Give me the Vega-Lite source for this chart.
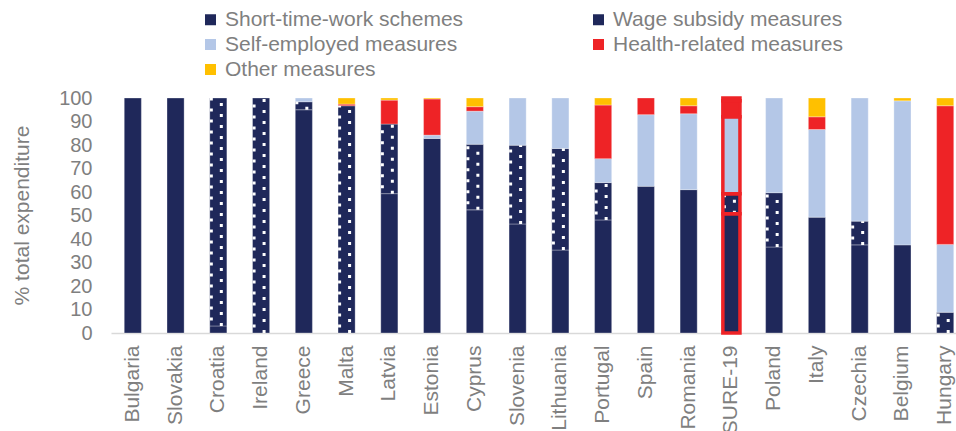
{
  "$schema": "https://vega.github.io/schema/vega-lite/v6.json",
  "width": 845,
  "height": 235,
  "autosize": {"type": "none"},
  "padding": {"left": 111, "top": 98, "right": 0, "bottom": 98},
  "background": "white",
  "config": {
    "font": "Liberation Sans",
    "view": {"stroke": null},
    "axis": {"labelColor": "#7F7F7F", "titleColor": "#7F7F7F", "labelFont": "Liberation Sans", "titleFont": "Liberation Sans"},
    "legend": {"labelFont": "Liberation Sans"}
  },
  "data": {
    "values": [
      {"country": "Bulgaria", "measure": "Short-time-work schemes", "value": 100},
      {"country": "Slovakia", "measure": "Short-time-work schemes", "value": 100},
      {"country": "Croatia", "measure": "Short-time-work schemes", "value": 3},
      {"country": "Croatia", "measure": "Wage subsidy measures", "value": 97},
      {"country": "Ireland", "measure": "Wage subsidy measures", "value": 100},
      {"country": "Greece", "measure": "Short-time-work schemes", "value": 95},
      {"country": "Greece", "measure": "Wage subsidy measures", "value": 3.4},
      {"country": "Greece", "measure": "Self-employed measures", "value": 1.6},
      {"country": "Malta", "measure": "Wage subsidy measures", "value": 96.7},
      {"country": "Malta", "measure": "Health-related measures", "value": 0.7},
      {"country": "Malta", "measure": "Other measures", "value": 2.6},
      {"country": "Latvia", "measure": "Short-time-work schemes", "value": 59.3},
      {"country": "Latvia", "measure": "Wage subsidy measures", "value": 29.6},
      {"country": "Latvia", "measure": "Health-related measures", "value": 10.2},
      {"country": "Latvia", "measure": "Other measures", "value": 0.9},
      {"country": "Estonia", "measure": "Short-time-work schemes", "value": 82.8},
      {"country": "Estonia", "measure": "Self-employed measures", "value": 1.4},
      {"country": "Estonia", "measure": "Health-related measures", "value": 15.4},
      {"country": "Estonia", "measure": "Other measures", "value": 0.4},
      {"country": "Cyprus", "measure": "Short-time-work schemes", "value": 52.4},
      {"country": "Cyprus", "measure": "Wage subsidy measures", "value": 27.9},
      {"country": "Cyprus", "measure": "Self-employed measures", "value": 14.1},
      {"country": "Cyprus", "measure": "Health-related measures", "value": 1.9},
      {"country": "Cyprus", "measure": "Other measures", "value": 3.7},
      {"country": "Slovenia", "measure": "Short-time-work schemes", "value": 46.4},
      {"country": "Slovenia", "measure": "Wage subsidy measures", "value": 33.5},
      {"country": "Slovenia", "measure": "Self-employed measures", "value": 20.1},
      {"country": "Lithuania", "measure": "Short-time-work schemes", "value": 35.3},
      {"country": "Lithuania", "measure": "Wage subsidy measures", "value": 43.2},
      {"country": "Lithuania", "measure": "Self-employed measures", "value": 21.5},
      {"country": "Portugal", "measure": "Short-time-work schemes", "value": 48.1},
      {"country": "Portugal", "measure": "Wage subsidy measures", "value": 15.9},
      {"country": "Portugal", "measure": "Self-employed measures", "value": 10.2},
      {"country": "Portugal", "measure": "Health-related measures", "value": 22.8},
      {"country": "Portugal", "measure": "Other measures", "value": 3},
      {"country": "Spain", "measure": "Short-time-work schemes", "value": 62.4},
      {"country": "Spain", "measure": "Self-employed measures", "value": 30.5},
      {"country": "Spain", "measure": "Health-related measures", "value": 7.1},
      {"country": "Romania", "measure": "Short-time-work schemes", "value": 61},
      {"country": "Romania", "measure": "Self-employed measures", "value": 32.3},
      {"country": "Romania", "measure": "Health-related measures", "value": 3.4},
      {"country": "Romania", "measure": "Other measures", "value": 3.3},
      {"country": "SURE-19", "measure": "Short-time-work schemes", "value": 50.7},
      {"country": "SURE-19", "measure": "Wage subsidy measures", "value": 8.6},
      {"country": "SURE-19", "measure": "Self-employed measures", "value": 32.7},
      {"country": "SURE-19", "measure": "Health-related measures", "value": 6.8},
      {"country": "SURE-19", "measure": "Other measures", "value": 1.2},
      {"country": "Poland", "measure": "Short-time-work schemes", "value": 36.6},
      {"country": "Poland", "measure": "Wage subsidy measures", "value": 23.1},
      {"country": "Poland", "measure": "Self-employed measures", "value": 40.3},
      {"country": "Italy", "measure": "Short-time-work schemes", "value": 49.3},
      {"country": "Italy", "measure": "Self-employed measures", "value": 37.3},
      {"country": "Italy", "measure": "Health-related measures", "value": 5.4},
      {"country": "Italy", "measure": "Other measures", "value": 8},
      {"country": "Czechia", "measure": "Short-time-work schemes", "value": 37.5},
      {"country": "Czechia", "measure": "Wage subsidy measures", "value": 10.1},
      {"country": "Czechia", "measure": "Self-employed measures", "value": 52.4},
      {"country": "Belgium", "measure": "Short-time-work schemes", "value": 37.5},
      {"country": "Belgium", "measure": "Self-employed measures", "value": 61.3},
      {"country": "Belgium", "measure": "Other measures", "value": 1.2},
      {"country": "Hungary", "measure": "Wage subsidy measures", "value": 8.8},
      {"country": "Hungary", "measure": "Self-employed measures", "value": 28.9},
      {"country": "Hungary", "measure": "Health-related measures", "value": 59},
      {"country": "Hungary", "measure": "Other measures", "value": 3.3}
    ]
  },
  "transform": [
    {"calculate": "indexof(['Short-time-work schemes','Wage subsidy measures','Self-employed measures','Health-related measures','Other measures'], datum.measure)", "as": "k"},
    {"stack": "value", "groupby": ["country"], "sort": [{"field": "k", "order": "ascending"}], "as": ["y0", "y1"]}
  ],
  "encoding": {
    "x": {
      "field": "country",
      "type": "nominal",
      "sort": ["Bulgaria", "Slovakia", "Croatia", "Ireland", "Greece", "Malta", "Latvia", "Estonia", "Cyprus", "Slovenia", "Lithuania", "Portugal", "Spain", "Romania", "SURE-19", "Poland", "Italy", "Czechia", "Belgium", "Hungary"],
      "scale": {"paddingInner": 0.6, "paddingOuter": 0.31, "range": [0, 856]},
      "axis": {
        "title": null,
        "labelAngle": -90,
        "labelFontSize": 21,
        "labelPadding": 12,
        "ticks": false,
        "domainColor": "#D9D9D9",
        "domainWidth": 1.5,
        "grid": false
      }
    },
    "y": {
      "field": "y0",
      "type": "quantitative",
      "scale": {"domain": [0, 100]},
      "axis": {
        "title": "% total expenditure",
        "titleFontSize": 21,
        "titleFontWeight": "normal",
        "titleAngle": -90,
        "titleX": -89,
        "titleY": 117,
        "titleAlign": "center",
        "titleBaseline": "middle",
        "values": [0, 10, 20, 30, 40, 50, 60, 70, 80, 90, 100],
        "labelFontSize": 20,
        "labelPadding": 19,
        "ticks": false,
        "domain": false,
        "grid": false
      }
    },
    "y2": {"field": "y1"}
  },
  "layer": [
    {
      "mark": {"type": "bar", "stroke": "white", "strokeWidth": 0.6, "strokeOpacity": 0.5},
      "encoding": {
        "color": {
          "field": "measure",
          "type": "nominal",
          "scale": {
            "domain": ["Short-time-work schemes", "Self-employed measures", "Other measures", "Wage subsidy measures", "Health-related measures"],
            "range": ["#1F285A", "#B4C7E7", "#FFC000", "#1F285A", "#EE2326"]
          },
          "legend": {
            "title": null,
            "orient": "none",
            "legendX": 89,
            "legendY": -89,
            "columns": 2,
            "columnPadding": 124,
            "rowPadding": 3,
            "symbolType": "square",
            "symbolSize": 121,
            "symbolStrokeWidth": 0,
            "labelFontSize": 21,
            "labelColor": "#7F7F7F",
            "labelOffset": 4,
            "labelLimit": 400,
            "padding": 0
          }
        }
      }
    },
    {
      "transform": [{"filter": "datum.measure === 'Wage subsidy measures'"}],
      "mark": {"type": "rule", "color": "white", "strokeWidth": 3, "strokeDash": [3, 8], "strokeCap": "butt", "xOffset": 3}
    },
    {
      "transform": [{"filter": "datum.measure === 'Wage subsidy measures'"}],
      "mark": {"type": "rule", "color": "white", "strokeWidth": 3, "strokeDash": [3, 8], "strokeDashOffset": 5.5, "strokeCap": "butt", "xOffset": -7}
    },
    {
      "transform": [{"filter": "datum.country === 'SURE-19'"}],
      "mark": {"type": "bar", "fill": "white", "fillOpacity": 0, "stroke": "#EE2326", "strokeWidth": 3.5}
    }
  ]
}
